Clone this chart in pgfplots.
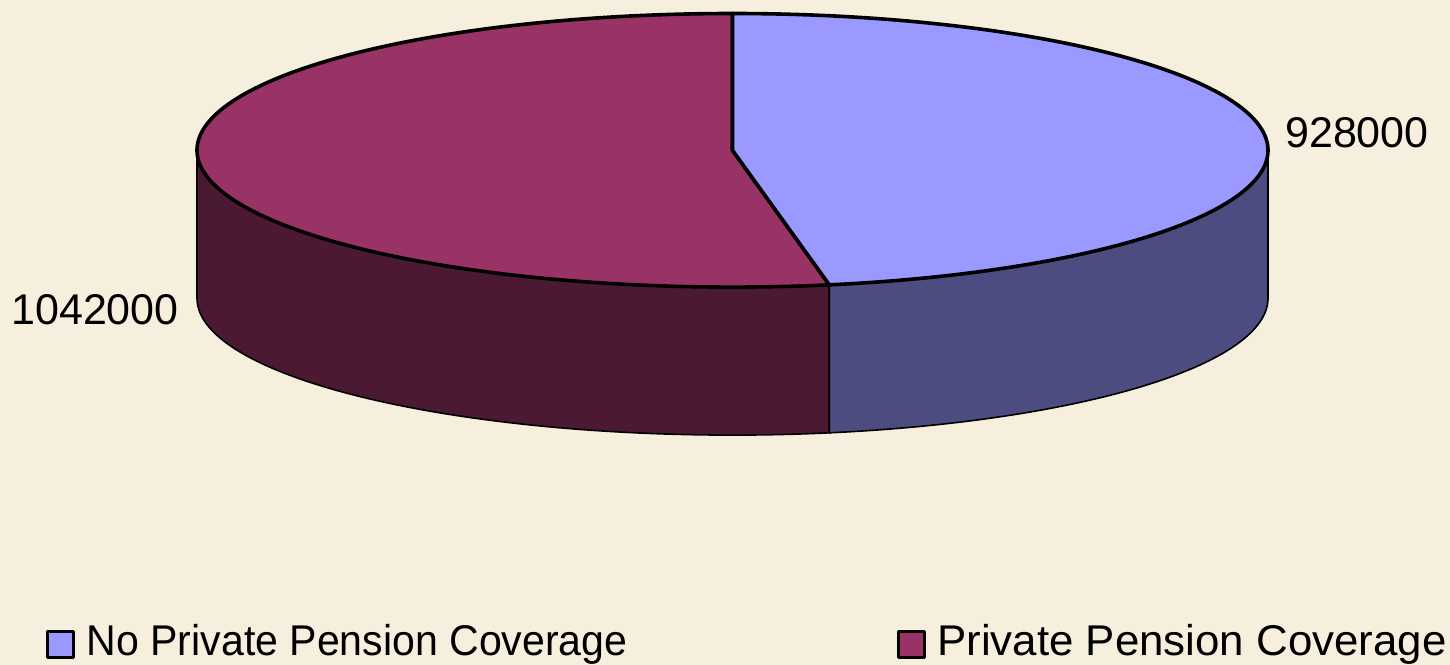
\documentclass[border=0pt]{standalone}
\usepackage{pgfplots}
\pgfplotsset{compat=1.18}
\usepgfplotslibrary{fillbetween}
\usepackage{graphicx}
\usepackage{fontspec}
\setmainfont{Liberation Sans}
\definecolor{bg}{HTML}{F7EFDD}
\definecolor{blueTop}{HTML}{9999FF}
\definecolor{blueSide}{HTML}{4C4C80}
\definecolor{redTop}{HTML}{993366}
\definecolor{redSide}{HTML}{4C1933}
\begin{document}
\begin{tikzpicture}
\def\va{928000}
\def\vb{1042000}
\def\cx{732.5}\def\cy{514.7}\def\ra{535.5}\def\rb{136.8}\def\dep{148}
\edef\ts{\fpeval{round(90-360*\va/(\va+\vb),3)}}
\edef\tsb{\fpeval{round(\ts+360,3)}}
\edef\cyb{\fpeval{\cy-\dep}}
\begin{axis}[scale only axis, width=362.5pt, height=166.25pt,
  xmin=0, xmax=1450, ymin=0, ymax=665, hide axis, clip=false,
  /tikz/fill between/on layer=main,
  every axis plot/.append style={line width=0.9pt, line join=round},
  legend columns=2,
  legend image code/.code={\draw[#1, draw=black, line width=0.8pt] (0pt,-3.6pt) rectangle (6.5pt,2.9pt); \path[draw=none, fill=none] (0pt,0pt) rectangle (7.75pt,0.1pt);},
  legend style={at={(axis cs:46,-5)}, anchor=south west, draw=none, fill=none,
    inner sep=0pt, outer sep=0pt,
    font=\fontsize{10.75}{13}\selectfont,
    /tikz/every even column/.append style={column sep=65.25pt}},
  legend cell align=left]
% background
\addplot[fill=bg, draw=none, forget plot] coordinates {(0,0) (1450,0) (1450,665) (0,665)} -- cycle;
% side arcs
\addplot[name path=mt, draw=none, forget plot, domain=180:\tsb, samples=80] ({\cx+\ra*cos(x)},{\cy+\rb*sin(x)});
\addplot[name path=mb, draw=none, forget plot, domain=180:\tsb, samples=80] ({\cx+\ra*cos(x)},{\cyb+\rb*sin(x)});
\addplot[name path=bt, draw=none, forget plot, domain=\tsb:360, samples=80] ({\cx+\ra*cos(x)},{\cy+\rb*sin(x)});
\addplot[name path=bb, draw=none, forget plot, domain=\tsb:360, samples=80] ({\cx+\ra*cos(x)},{\cyb+\rb*sin(x)});
\addplot[fill=redSide, draw=black, forget plot] fill between[of=mt and mb];
\addplot[fill=blueSide, draw=black, forget plot] fill between[of=bt and bb];
% top sectors
\addplot[fill=redTop, draw=black, forget plot, samples at={90,91,...,280,\tsb,999}]
  ({x>500 ? \cx : \cx+\ra*cos(x)},{x>500 ? \cy : \cy+\rb*sin(x)}) -- cycle;
\addplot[fill=blueTop, draw=black, forget plot, samples at={\ts,-79,-78,...,90,999}]
  ({x>500 ? \cx : \cx+\ra*cos(x)},{x>500 ? \cy : \cy+\rb*sin(x)}) -- cycle;
% labels
\node[font=\fontsize{10.75}{13}\selectfont, anchor=base] at (axis cs:1357,517) {928000};
\node[font=\fontsize{10.75}{13}\selectfont, anchor=base] at (axis cs:95,340) {1042000};
% legend
\addlegendimage{fill=blueTop}
\addlegendentry{\scalebox{0.955}[1]{No Private Pension Coverage}}
\addlegendimage{fill=redTop}
\addlegendentry{\scalebox{1.02}[1]{Private Pension Coverage}}
\end{axis}
\pgfresetboundingbox
\path[use as bounding box] (current axis.south west) rectangle (current axis.north east);
\end{tikzpicture}
\end{document}
